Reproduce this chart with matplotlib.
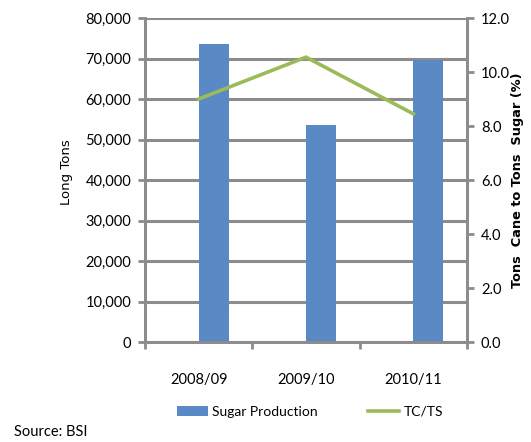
import matplotlib
matplotlib.use("Agg")
import matplotlib.pyplot as plt
import numpy as np
from matplotlib.lines import Line2D
from matplotlib.patches import Patch

seasons = ["2008/09", "2009/10", "2010/11"]
sugar_production = [73500, 53500, 69700]
tc_ts = [9.0, 10.55, 8.45]
left_ticks = [0, 10000, 20000, 30000, 40000, 50000, 60000, 70000, 80000]
right_ticks = [0.0, 2.0, 4.0, 6.0, 8.0, 10.0, 12.0]

narrow = ["Lato", "DejaVu Sans"]
grid_c = "#8c8c8c"
bar_c = "#5a8ac6"
line_c = "#9bbb59"

fig = plt.figure(figsize=(5.31, 4.42), dpi=100)
ax = fig.add_axes([145 / 531, 1 - 342 / 442, (467 - 145) / 531, (342 - 18) / 442])
ax2 = ax.twinx()

x = np.arange(len(seasons))
ax.bar(x, sugar_production, width=0.28, align="edge", color=bar_c, zorder=3)
ax.set_xlim(-0.5, len(seasons) - 0.5)
ax.set_ylim(0, 80000)
ax.set_yticks(left_ticks)
ax.set_yticklabels([f"{v:,}" for v in left_ticks], fontfamily=narrow, fontsize=10.5)
ax.set_xticks(x)
ax.set_xticklabels(seasons, fontfamily=narrow, fontsize=10.5)
ax.set_xticks(np.arange(len(seasons) + 1) - 0.5, minor=True)
ax.tick_params(axis="x", which="major", length=0, pad=22)
ax.tick_params(axis="x", which="minor", length=5, width=2, color=grid_c)
ax.tick_params(axis="y", length=5, width=2, color=grid_c, pad=5)
ax.grid(axis="y", color=grid_c, linewidth=2.2, zorder=0)
ax.set_axisbelow(True)
ax.spines["top"].set_visible(False)
ax2.spines["top"].set_visible(False)
for sp in ["left", "bottom", "right"]:
    for a in (ax, ax2):
        a.spines[sp].set_color(grid_c)
        a.spines[sp].set_linewidth(2)
ax.set_ylabel("Long Tons", fontsize=9.5, fontfamily="DejaVu Sans")
ax.yaxis.set_label_coords(-0.225, 0.525)

ax2.plot(x, tc_ts, color=line_c, linewidth=2.6, zorder=4)
ax2.set_ylim(0, 12)
ax2.set_yticks(right_ticks)
ax2.set_yticklabels([f"{v:.1f}" for v in right_ticks], fontfamily=narrow, fontsize=10.5)
ax2.tick_params(axis="y", length=5, width=2, color=grid_c, pad=5)
ax2.set_ylabel("Tons  Cane to Tons  Sugar (%)", fontsize=9.3, fontweight="bold",
               fontfamily="DejaVu Sans")
ax2.yaxis.set_label_coords(1.138, 0.5)

legend_kw = dict(loc="center left", frameon=False, handlelength=2.2, handletextpad=0.35,
                 borderpad=0, borderaxespad=0, prop={"family": narrow, "size": 10})
leg1 = fig.legend([Patch(facecolor=bar_c)], ["Sugar Production"],
                  bbox_to_anchor=(177 / 531, 1 - 412 / 442), **legend_kw)
leg2 = fig.legend([Line2D([0], [0], color=line_c, linewidth=2.6)], ["TC/TS"],
                  bbox_to_anchor=(368 / 531, 1 - 412 / 442), **legend_kw)

fig.text(14 / 531, 1 - 432 / 442, "Source: BSI", fontfamily=narrow, fontsize=10.5, va="center")

fig.savefig("out.png", dpi=100)
